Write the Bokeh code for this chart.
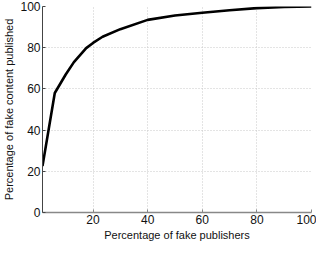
from bokeh.plotting import figure
from bokeh.embed import file_html
from bokeh.resources import INLINE
from bokeh.models import FixedTicker, Range1d

# Data
pct_publishers = [1.5, 6, 10, 13, 17.5, 20, 23.5, 30, 40, 50, 60, 70, 80, 90, 100]
pct_content = [22.5, 58, 67, 73, 79.8, 82.3, 85.3, 89, 93.5, 95.6, 97, 98.2, 99.2, 99.8, 100]
x_ticks = [20, 40, 60, 80, 100]
y_ticks = [0, 20, 40, 60, 80, 100]

FONT = "Liberation Sans"

p = figure(width=316, height=243, output_backend="svg", toolbar_location=None,
           x_range=Range1d(1.5, 100), y_range=Range1d(0, 100),
           min_border_top=6, min_border_right=5, min_border_left=0, min_border_bottom=0)
p.outline_line_color = None
p.background_fill_color = "white"
p.border_fill_color = "white"

p.line(pct_publishers, pct_content, line_color="black", line_width=2.6)

p.xaxis.ticker = FixedTicker(ticks=x_ticks)
p.yaxis.ticker = FixedTicker(ticks=y_ticks)
p.xaxis.axis_label = "Percentage of fake publishers"
p.yaxis.axis_label = "Percentage of fake content published"

for ax in (p.xaxis[0], p.yaxis[0]):
    ax.major_label_text_font = FONT
    ax.major_label_text_font_size = "12px"
    ax.major_label_text_color = "#111111"
    ax.axis_label_text_font = FONT
    ax.axis_label_text_font_size = "11px"
    ax.axis_label_text_font_style = "normal"
    ax.axis_label_text_color = "#111111"
    ax.major_tick_in = 3
    ax.major_tick_out = 0
    ax.minor_tick_line_color = None
    ax.major_label_standoff = 2
    ax.axis_label_standoff = 2
p.xaxis.axis_line_color = "#888888"
p.xaxis.major_tick_line_color = "#888888"
p.yaxis.axis_line_color = "#444444"
p.yaxis.major_tick_line_color = "#444444"
p.xaxis.axis_line_width = 1.5

p.grid.grid_line_color = "#c8c8c8"
p.grid.grid_line_dash = "1 2"
p.grid.grid_line_width = 1

open("out.html", "w").write(file_html(p, INLINE))
